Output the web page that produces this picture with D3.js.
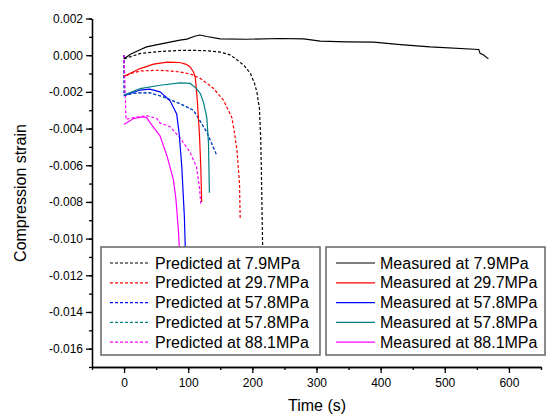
<!DOCTYPE html>
<html>
<head>
<meta charset="utf-8">
<script src="https://cdn.jsdelivr.net/npm/d3@7/dist/d3.min.js"></script>
<style>
    body { margin: 0; background: #fff; }
    svg { display: block; font-family: Arial, "Liberation Sans", sans-serif; }
    .axis path, .axis line { stroke: #000; stroke-width: 1.3; }
    .axis text { font-size: 12px; fill: #000; font-family: Arial, "Liberation Sans", sans-serif; }
    .title { font-size: 16px; fill: #000; }
    .legend text { font-size: 16px; fill: #000; }
</style>
</head>
<body>
<div id="vis"></div>
<script>
// [time (s), strain]
var predicted79  = [[0,-0.0002],[25,0.00009],[56,0.0002],[87,0.00026],[110,0.00026],[130,0.00024],[150,0.00017],[165,0.00002],[176,-0.00025],[188,-0.0006],[197,-0.001],[203,-0.0015],[207,-0.002],[211,-0.0029],[213,-0.0045],[214,-0.0062],[216,-0.0104],[217,-0.012]];
var predicted297 = [[0,0],[0,-0.0012],[10,-0.001],[25,-0.00086],[56,-0.00082],[87,-0.00091],[105,-0.00105],[119,-0.00127],[130,-0.00155],[139,-0.0018],[155,-0.00245],[168,-0.0034],[172,-0.0042],[176,-0.0052],[180,-0.007],[181,-0.0089]];
var predicted578 = [[0,0],[0,-0.0022],[12,-0.0021],[25,-0.00205],[40,-0.00205],[61,-0.00227],[87,-0.00264],[108,-0.003],[113,-0.00327],[129,-0.0042],[145,-0.0055]];
var predicted881 = [[0,0],[3,-0.0035],[15,-0.0034],[35,-0.0033],[51,-0.00345],[56,-0.0037],[72,-0.0039],[87,-0.0045],[103,-0.0053],[113,-0.0061],[117.5,-0.0072],[119.6,-0.0081]];

var measured79  = [[0,-0.0002],[10,0.00005],[25,0.0003],[35,0.00045],[56,0.0006],[87,0.00082],[98,0.00088],[110,0.00103],[118,0.0011],[129,0.00102],[150,0.00089],[191,0.00087],[243,0.00091],[280,0.00089],[306,0.00077],[347,0.00073],[389,0.00071],[431,0.00058],[477,0.00045],[553,0.00031],[555,0.0001],[560,0.00002],[568,-0.0002]];
var measured297 = [[0,-0.00115],[25,-0.00073],[46,-0.00049],[67,-0.00038],[87,-0.0004],[97,-0.0005],[103,-0.00064],[108,-0.0009],[111,-0.0012],[114,-0.0024],[117.5,-0.0043],[119.6,-0.0061],[121,-0.008]];
var measured578a = [[0,-0.0022],[25,-0.0019],[40,-0.00185],[56,-0.002],[66,-0.0023],[72,-0.0025],[82,-0.0032],[86,-0.0043],[90,-0.0061],[94,-0.0088],[96,-0.0112]];
var measured578b = [[0,-0.00218],[25,-0.00182],[56,-0.00164],[87,-0.00151],[103,-0.00154],[113,-0.00182],[119,-0.0021],[124,-0.0026],[129,-0.0034],[131.6,-0.0048],[133,-0.0075]];
var measured881 = [[0,-0.00376],[15,-0.00345],[30,-0.00336],[35,-0.0034],[43,-0.0038],[56,-0.0044],[67,-0.0055],[77,-0.0068],[81,-0.0079],[85,-0.0097],[87,-0.0112]];

var predictedLabels = ['Predicted at 7.9MPa', 'Predicted at 29.7MPa', 'Predicted at 57.8MPa', 'Predicted at 57.8MPa', 'Predicted at 88.1MPa'];
var measuredLabels  = ['Measured at 7.9MPa', 'Measured at 29.7MPa', 'Measured at 57.8MPa', 'Measured at 57.8MPa', 'Measured at 88.1MPa'];
var colors = ['#000000', '#ff0000', '#0000ff', '#008080', '#ff00ff'];
var xTicks = [0, 100, 200, 300, 400, 500, 600];
var yTicks = [0.002, 0, -0.002, -0.004, -0.006, -0.008, -0.01, -0.012, -0.014, -0.016];

var predicted = [predicted79, predicted297, predicted578, predicted578, predicted881];
var measured  = [measured79, measured297, measured578a, measured578b, measured881];

var width = 546,
    height = 419;

var svg = d3.select('#vis')
            .append('svg')
            .attr('width', width)
            .attr('height', height);

var xScale = d3.scaleLinear().domain([-50, 650]).range([92, 541]);
var yScale = d3.scaleLinear().domain([-0.017, 0.002]).range([367, 18.5]);

var line = d3.line()
             .x((d) => xScale(d[0]))
             .y((d) => yScale(d[1]));

// curves
var g = svg.append('g');
predicted.forEach((data, i) => {
    g.append('path')
     .attr('d', line(data))
     .attr('fill', 'none')
     .attr('stroke', colors[i])
     .attr('stroke-width', 1.2)
     .attr('stroke-opacity', i == 3 ? 0.6 : 1)
     .attr('stroke-dasharray', '3,2');
});
measured.forEach((data, i) => {
    g.append('path')
     .attr('d', line(data))
     .attr('fill', 'none')
     .attr('stroke', colors[i])
     .attr('stroke-width', 1.2);
});

// axes
var xAxis = d3.axisBottom(xScale).tickValues(xTicks).tickSize(6).tickSizeOuter(0).tickPadding(5).tickFormat(d3.format('d'));
var xMinor = d3.axisBottom(xScale).tickValues(d3.range(-50, 651, 50)).tickSize(3).tickSizeOuter(0).tickFormat('');
var yAxis = d3.axisLeft(yScale).tickValues(yTicks).tickSize(6).tickSizeOuter(0).tickPadding(3).tickFormat(d3.format('.3f'));
var yMinor = d3.axisLeft(yScale).tickValues(d3.range(-17, 3).map((d) => d / 1000)).tickSize(3).tickSizeOuter(0).tickFormat('');

svg.append('g').attr('class', 'axis').attr('transform', 'translate(0, 367)').call(xMinor);
svg.append('g').attr('class', 'axis').attr('transform', 'translate(0, 367)').call(xAxis);
svg.append('g').attr('class', 'axis').attr('transform', 'translate(92, 0)').call(yMinor);
svg.append('g').attr('class', 'axis').attr('transform', 'translate(92, 0)').call(yAxis);

svg.selectAll('.axis text').text(function() { return d3.select(this).text().replace('\u2212', '-'); });

svg.append('text')
   .attr('class', 'title')
   .attr('text-anchor', 'middle')
   .attr('transform', 'translate(26, 193) rotate(-90)')
   .text('Compression strain');

svg.append('text')
   .attr('class', 'title')
   .attr('text-anchor', 'middle')
   .attr('x', 317)
   .attr('y', 411)
   .text('Time (s)');

// legends
var drawLegend = (x, w, labels, dashed, lineX0, lineX1, textX) => {
    var lg = svg.append('g').attr('class', 'legend');
    lg.append('rect')
      .attr('x', x).attr('y', 247)
      .attr('width', w).attr('height', 108)
      .attr('fill', '#fff')
      .attr('stroke', '#666')
      .attr('stroke-width', 1.5);
    labels.forEach((label, i) => {
        var yy = 263 + i * 19.8;
        lg.append('line')
          .attr('x1', lineX0).attr('x2', lineX1)
          .attr('y1', yy).attr('y2', yy)
          .attr('stroke', colors[i])
          .attr('stroke-width', 1.2)
          .attr('stroke-dasharray', dashed ? '3,2' : null);
        lg.append('text')
          .attr('x', textX)
          .attr('y', yy + 5.5)
          .text(label);
    });
};
drawLegend(101, 219, predictedLabels, true, 110, 150, 155);
drawLegend(326, 219, measuredLabels, false, 336, 375, 380);
</script>
</body>
</html>
